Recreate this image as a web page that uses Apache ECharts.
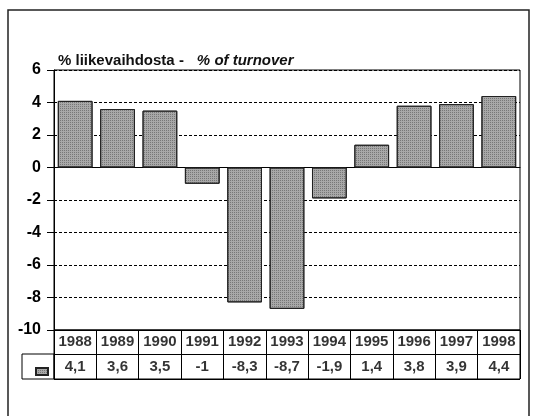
<!DOCTYPE html>
<html>
<head>
<meta charset="utf-8">
<script src="https://cdn.jsdelivr.net/npm/echarts@6/dist/echarts.min.js"></script>
<style>
  html, body { margin: 0; padding: 0; background: #fff; }
  #chart { width: 533px; height: 416px; }
</style>
</head>
<body>
<div id="chart"></div>
<script>
// vuodet - years
const years = ['1988', '1989', '1990', '1991', '1992', '1993', '1994', '1995', '1996', '1997', '1998'];
// % liikevaihdosta - % of turnover
const values = [4.1, 3.6, 3.5, -1, -8.3, -8.7, -1.9, 1.4, 3.8, 3.9, 4.4];
const yMin = -10;
const yMax = 6;
const yStep = 2;
const tableRows = ['arvo', 'vuosi'];

const seriesName = '% liikevaihdosta';
const cellFont = "'Liberation Sans Narrow', 'Arial Narrow', 'Liberation Sans', Arial, sans-serif";
const font = "'Liberation Sans', Arial, sans-serif";

// table cells: years on top row, values on bottom row
const tableCells = [];
years.forEach((y, i) => {
  tableCells.push({ value: [y, 'vuosi'], text: y });
  tableCells.push({ value: [y, 'arvo'], text: String(values[i]).replace('.', ',') });
});

const myChart = echarts.init(document.getElementById('chart'));
const option = {
  animation: false,
  backgroundColor: '#fff',
  title: {
    left: 53,
    top: 48,
    text: '{a|% liikevaihdosta -}{b|% of turnover}',
    textStyle: {
      rich: {
        a: { fontFamily: font, fontWeight: 'bold', fontSize: 15, color: '#111' },
        b: { fontFamily: font, fontWeight: 'bold', fontStyle: 'italic', fontSize: 15, color: '#111', padding: [0, 0, 0, 13] }
      }
    }
  },
  legend: {
    left: 35,
    top: 367,
    data: [seriesName],
    icon: 'rect',
    itemWidth: 12,
    itemHeight: 7,
    formatter: () => '',
    selectedMode: false,
    padding: 0
  },
  graphic: [
    // outer frame
    { type: 'rect', shape: { x: 8, y: 10, width: 521, height: 420 }, style: { fill: 'none', stroke: '#222', lineWidth: 1.5 }, silent: true },
    // legend key cell of the data table
    { type: 'rect', shape: { x: 22, y: 354, width: 32, height: 25 }, style: { fill: 'none', stroke: '#000', lineWidth: 1 }, silent: true }
  ],
  grid: [
    { left: 54, right: 13, top: 70, height: 260, show: true, borderColor: '#000', borderWidth: 1 },
    { left: 54, right: 13, top: 330, height: 49, show: true, borderColor: '#000', borderWidth: 1 }
  ],
  xAxis: [
    {
      type: 'category',
      gridIndex: 0,
      data: years,
      axisLine: { show: true, onZero: true, lineStyle: { color: '#000', width: 1 } },
      axisTick: { show: false },
      axisLabel: { show: false },
      splitLine: { show: false }
    },
    {
      type: 'category',
      gridIndex: 1,
      data: years,
      axisLine: { show: false },
      axisTick: { show: false, interval: 0 },
      axisLabel: { show: false, interval: 0 },
      splitLine: { show: true, interval: 0, lineStyle: { color: '#000', width: 1 } }
    }
  ],
  yAxis: [
    {
      type: 'value',
      gridIndex: 0,
      min: yMin,
      max: yMax,
      interval: yStep,
      axisLine: { show: true, lineStyle: { color: '#000', width: 1 } },
      axisTick: { show: true, length: 7, lineStyle: { color: '#000' } },
      axisLabel: { margin: 13, color: '#000', fontFamily: font, fontWeight: 'bold', fontSize: 16 },
      splitLine: { show: true, lineStyle: { color: '#000', width: 1, type: [3, 2] } }
    },
    {
      type: 'category',
      gridIndex: 1,
      data: tableRows,
      axisLine: { show: false },
      axisTick: { show: false, interval: 0 },
      axisLabel: { show: false, interval: 0 },
      splitLine: { show: true, interval: 0, lineStyle: { color: '#000', width: 1 } }
    }
  ],
  series: [
    {
      name: seriesName,
      type: 'bar',
      xAxisIndex: 0,
      yAxisIndex: 0,
      data: values,
      barWidth: '82%',
      itemStyle: {
        color: '#a8a8a8',
        borderColor: '#222',
        borderWidth: 1,
        decal: {
          symbol: 'rect',
          symbolSize: 1,
          dashArrayX: [1, 1],
          dashArrayY: [1, 1],
          color: 'rgba(60,60,60,0.45)'
        }
      },
      silent: true
    },
    {
      name: 'taulukko',
      type: 'scatter',
      xAxisIndex: 1,
      yAxisIndex: 1,
      symbolSize: 0,
      data: tableCells,
      label: {
        show: true,
        position: 'inside',
        formatter: p => p.data.text,
        color: '#000',
        fontFamily: cellFont,
        fontWeight: 'bold',
        fontSize: 15
      },
      silent: true
    }
  ]
};

option && myChart.setOption(option);
</script>
</body>
</html>
